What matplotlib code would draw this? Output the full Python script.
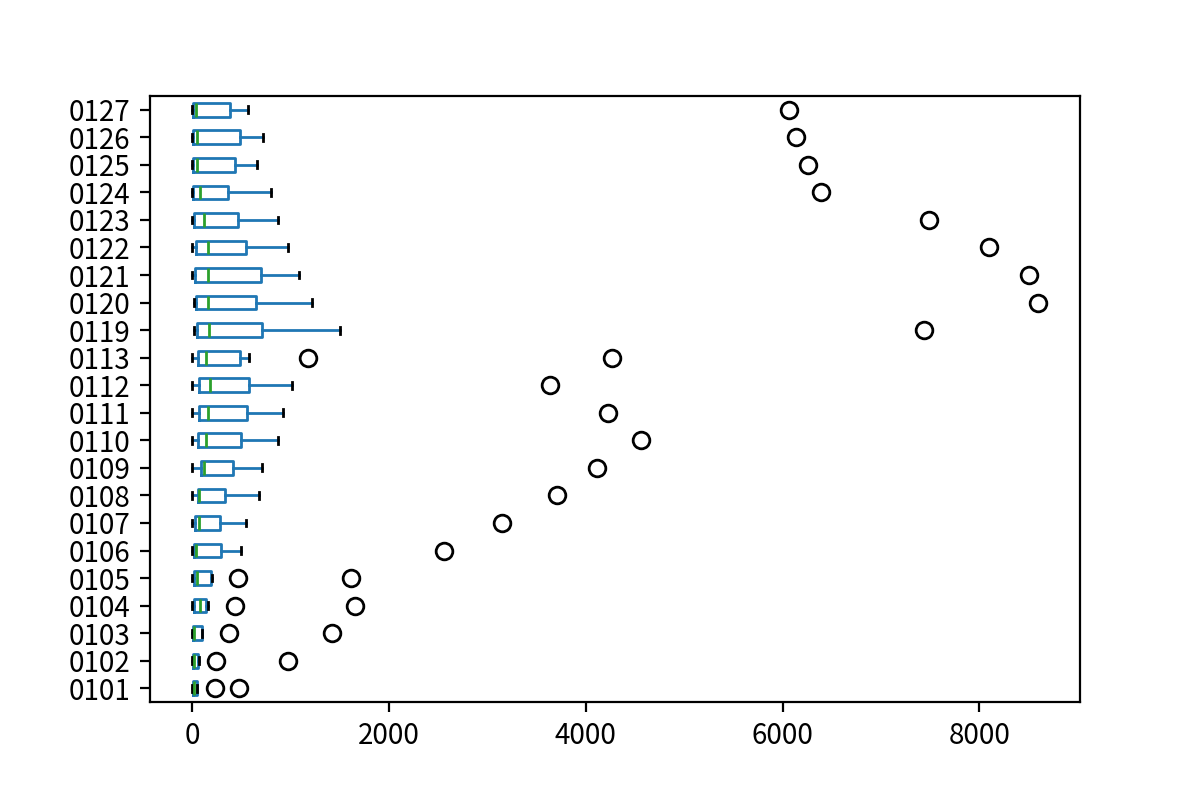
import matplotlib
matplotlib.use("Agg")
import matplotlib.pyplot as plt

plt.rcParams['font.family'] = ['Noto Sans CJK SC', 'DejaVu Sans']

labels = ['0101', '0102', '0103', '0104', '0105', '0106', '0107', '0108',
          '0109', '0110', '0111', '0112', '0113', '0119', '0120', '0121',
          '0122', '0123', '0124', '0125', '0126', '0127']

whislo = [0, 0, 0, 0, 0, 0, 0, 0, 0, 0, 0, 0, 0, 14, 14, 0, 0, 0, 0, 0, 0, 0]
q1 = [3, 5, 7, 20, 17, 20, 27, 54, 91, 58, 71, 71, 58, 47, 37, 30, 37, 20, 10, 3, 3, 3]
med = [14, 14, 20, 74, 51, 37, 71, 71, 122, 135, 155, 176, 142, 166, 155, 155,
       155, 115, 74, 44, 44, 34]
q3 = [47, 58, 98, 142, 186, 294, 284, 332, 413, 497, 555, 579, 487, 707, 650,
      697, 548, 467, 365, 436, 487, 379]
whishi = [47, 64, 98, 155, 200, 500, 551, 683, 704, 876, 927, 1018, 572, 1500,
          1221, 1089, 978, 876, 805, 663, 724, 562]
fliers = [[233, 470], [244, 978], [369, 1424], [430, 1658], [460, 1614],
          [2561], [3150], [3708], [4114], [4564], [4226], [3637], [1174, 4267],
          [7433], [8594], [8509], [8103], [7484], [6388], [6256], [6134], [6063]]

stats = []
for i in range(len(labels)):
    stats.append(dict(label=labels[i], whislo=whislo[i], q1=q1[i], med=med[i],
                      q3=q3[i], whishi=whishi[i], fliers=fliers[i]))

fig = plt.figure(figsize=(6, 4), dpi=200)
ax = fig.add_subplot(111)
fig.subplots_adjust(left=0.125, right=0.9, top=0.88, bottom=0.1225)

ax.bxp(stats, orientation='horizontal',
       boxprops=dict(color='C0'),
       whiskerprops=dict(color='C0'),
       medianprops=dict(color='C2'),
       capprops=dict(color='k'),
       flierprops=dict(marker='o', markeredgecolor='k', markerfacecolor='none'))

fig.savefig('out.png', dpi=200)
